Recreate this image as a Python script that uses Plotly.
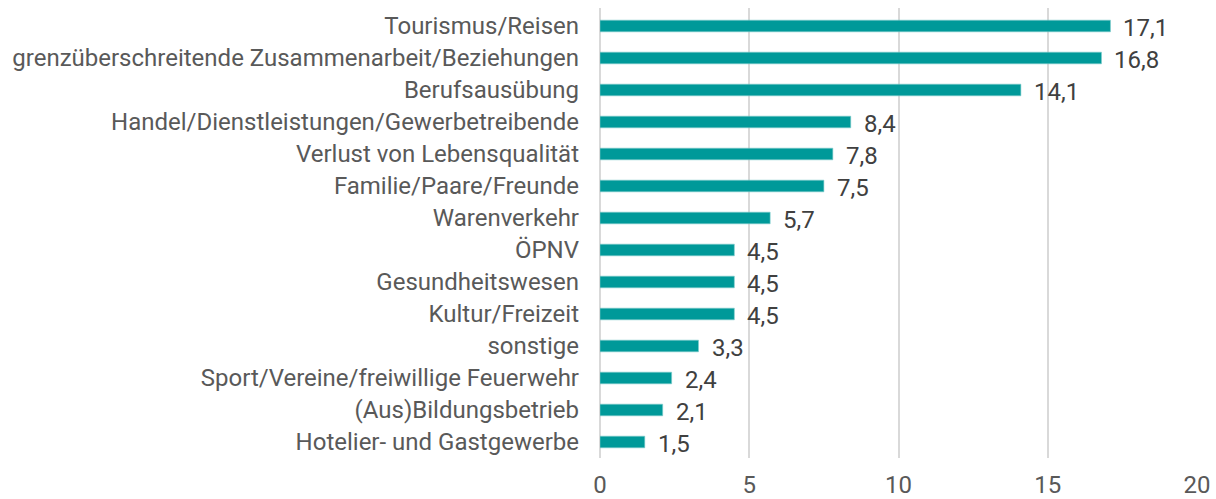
import plotly.graph_objects as go

categories = [
    "Tourismus/Reisen",
    "grenzüberschreitende Zusammenarbeit/Beziehungen",
    "Berufsausübung",
    "Handel/Dienstleistungen/Gewerbetreibende",
    "Verlust von Lebensqualität",
    "Familie/Paare/Freunde",
    "Warenverkehr",
    "ÖPNV",
    "Gesundheitswesen",
    "Kultur/Freizeit",
    "sonstige",
    "Sport/Vereine/freiwillige Feuerwehr",
    "(Aus)Bildungsbetrieb",
    "Hotelier- und Gastgewerbe",
]
values = [17.1, 16.8, 14.1, 8.4, 7.8, 7.5, 5.7, 4.5, 4.5, 4.5, 3.3, 2.4, 2.1, 1.5]
x_ticks = [0, 5, 10, 15, 20]

labels = [f"{v:.1f}".replace(".", ",") for v in values]

fig = go.Figure(go.Bar(
    x=values, y=categories, orientation="h",
    marker=dict(color="#009999", line=dict(color="#7fcccc", width=0.6)),
    width=0.365,
))

for v, c, t in zip(values, categories, labels):
    fig.add_annotation(x=v, y=c, text=t, showarrow=False, xanchor="left",
                       xshift=11, yshift=-2,
                       font=dict(family="Roboto", size=24, color="#404040"))

fig.update_layout(
    width=1216, height=499,
    margin=dict(l=600, r=19, t=8, b=41, autoexpand=False),
    plot_bgcolor="white", paper_bgcolor="white",
    font=dict(family="Roboto", size=24, color="#595959"),
    showlegend=False,
    xaxis=dict(range=[0, 20], tickvals=x_ticks, showgrid=True, gridcolor="#d9d9d9",
               gridwidth=1.5, zeroline=True, zerolinecolor="#d9d9d9", zerolinewidth=1.5,
               showline=False, ticks="", ticklabelstandoff=10,
               ticklabeloverflow="allow"),
    yaxis=dict(autorange="reversed", showgrid=False, showline=False, ticks="",
               ticklabelstandoff=20),
)

fig.write_html("out.html", config={"displayModeBar": False},
               post_script="document.body.style.margin='0';document.body.style.overflow='hidden';")
